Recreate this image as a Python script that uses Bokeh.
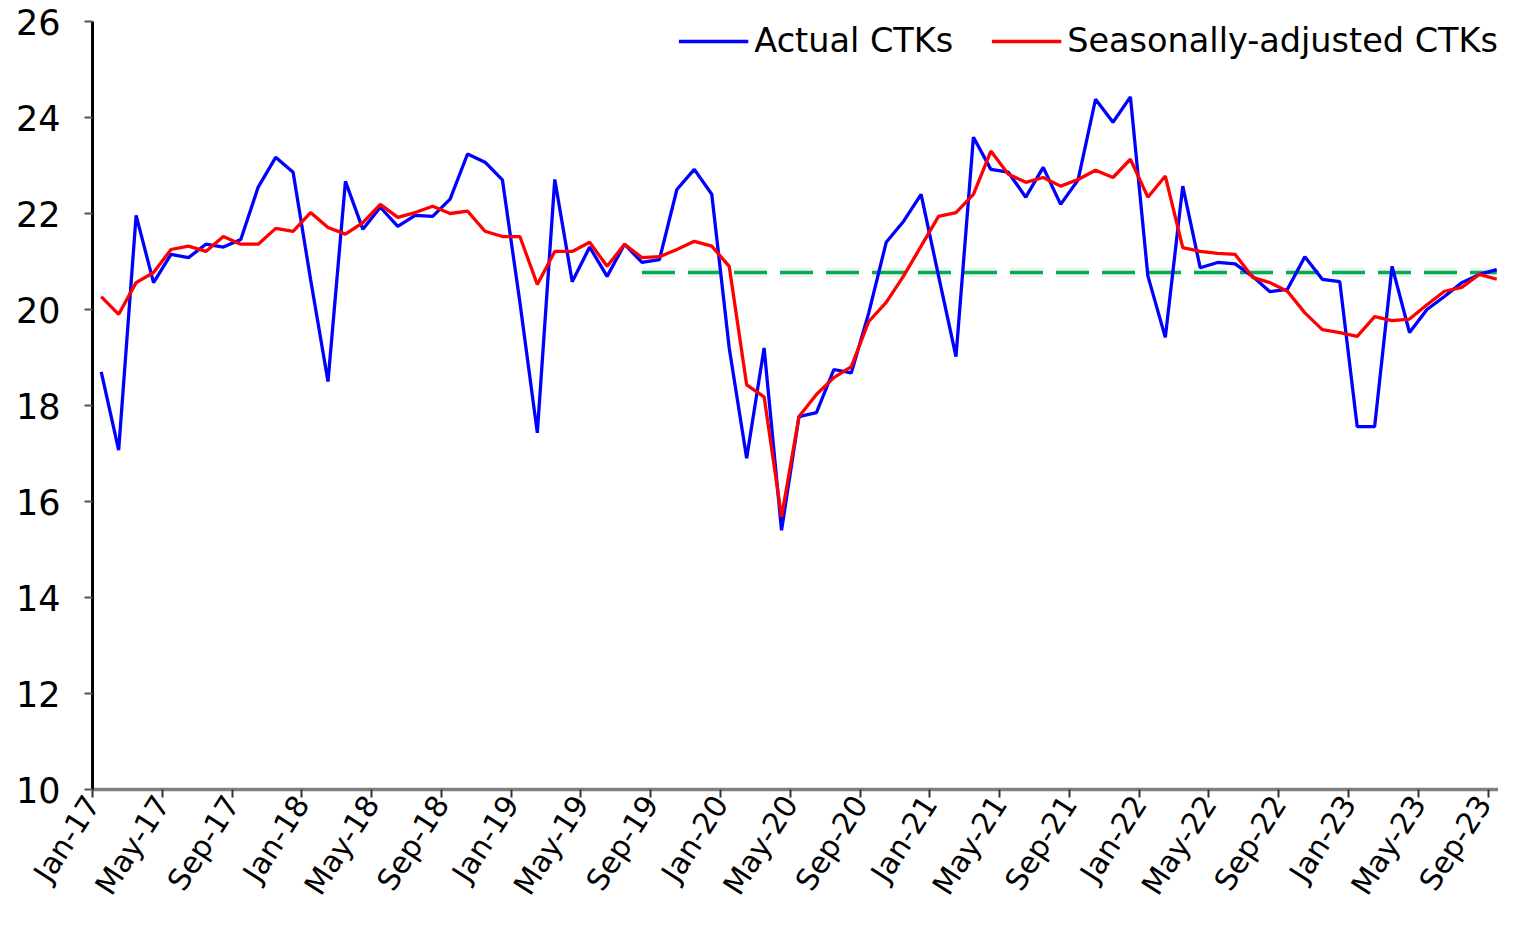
import numpy as np
import pandas as pd
from bokeh.plotting import figure
from bokeh.models import FixedTicker, Range1d, Legend, LegendItem
from bokeh.embed import file_html
from bokeh.resources import INLINE

# ---- data ----
months = [d.strftime("%b-%y") for d in pd.date_range("2017-01-01", "2023-09-01", freq="MS")]

actual_ctks = [
    18.70, 17.07, 21.96, 20.56, 21.15, 21.08, 21.36, 21.30, 21.46, 22.55, 23.17, 22.86,  # 2017
    20.63, 18.50, 22.67, 21.67, 22.13, 21.73, 21.96, 21.94, 22.30, 23.24, 23.07, 22.70,  # 2018
    20.15, 17.43, 22.71, 20.58, 21.30, 20.69, 21.36, 20.98, 21.04, 22.50, 22.92, 22.40,  # 2019
    19.20, 16.90, 19.20, 15.40, 17.77, 17.85, 18.75, 18.68, 19.93, 21.40, 21.84, 22.40,  # 2020
    20.70, 19.02, 23.59, 22.92, 22.86, 22.34, 22.96, 22.19, 22.70, 24.38, 23.90, 24.43,  # 2021
    20.70, 19.42, 22.57, 20.87, 20.98, 20.95, 20.69, 20.37, 20.42, 21.10, 20.63, 20.58,  # 2022
    17.56, 17.56, 20.90, 19.52, 20.00, 20.27, 20.56, 20.73, 20.83,                      # 2023
]

sa_ctks = [
    20.27, 19.90, 20.56, 20.77, 21.25, 21.32, 21.21, 21.52, 21.36, 21.36, 21.69, 21.63,  # 2017
    22.02, 21.71, 21.57, 21.81, 22.19, 21.92, 22.02, 22.15, 22.00, 22.05, 21.63, 21.52,  # 2018
    21.52, 20.52, 21.21, 21.21, 21.40, 20.90, 21.36, 21.08, 21.10, 21.25, 21.42, 21.32,  # 2019
    20.90, 18.43, 18.18, 15.68, 17.77, 18.23, 18.58, 18.81, 19.75, 20.15, 20.70, 21.32,  # 2020
    21.94, 22.02, 22.40, 23.30, 22.82, 22.65, 22.75, 22.57, 22.71, 22.90, 22.75, 23.13,  # 2021
    22.34, 22.78, 21.29, 21.21, 21.17, 21.15, 20.67, 20.56, 20.38, 19.93, 19.58, 19.52,  # 2022
    19.44, 19.85, 19.77, 19.80, 20.10, 20.38, 20.46, 20.73, 20.63,                      # 2023
]

ref_level = 20.77          # pre-pandemic reference level
ref_start = "Aug-19"

tick_labels = ["Jan-17", "May-17", "Sep-17", "Jan-18", "May-18", "Sep-18", "Jan-19",
               "May-19", "Sep-19", "Jan-20", "May-20", "Sep-20", "Jan-21", "May-21",
               "Sep-21", "Jan-22", "May-22", "Sep-22", "Jan-23", "May-23", "Sep-23"]

y_ticks = [10, 12, 14, 16, 18, 20, 22, 24, 26]

# ---- positions derived from the categories ----
x = np.arange(len(months)) + 0.5
tick_pos = [months.index(t) for t in tick_labels]
i0 = months.index(ref_start)
ref_x = x[i0:]
ref_y = [ref_level] * len(ref_x)

FONT = "DejaVu Sans"

p = figure(width=1498, height=913, output_backend="svg", toolbar_location=None,
           x_range=Range1d(0, 80.6), y_range=Range1d(10, 26),
           min_border_left=92, min_border_right=0, min_border_top=21, min_border_bottom=124)

p.outline_line_color = None
p.xgrid.visible = False
p.ygrid.visible = False
p.background_fill_color = "white"
p.border_fill_color = "white"

# reference line with soft shadow
p.line(ref_x, ref_y, line_color="#888888", line_width=10, line_alpha=0.10, line_dash="33 13")
l_ref = p.line(ref_x, ref_y, line_color="#00B050", line_width=3.5, line_dash="33 13")

l_act = p.line(x, actual_ctks, line_color="#0000FF", line_width=3.3)
l_sa = p.line(x, sa_ctks, line_color="#FF0000", line_width=3.3)

# axes
p.yaxis.ticker = FixedTicker(ticks=y_ticks)
p.xaxis.ticker = FixedTicker(ticks=tick_pos)
p.xaxis.major_label_overrides = {pos: lab for pos, lab in zip(tick_pos, tick_labels)}

for ax in (p.xaxis[0], p.yaxis[0]):
    ax.minor_tick_line_color = None
    ax.major_tick_in = 0
    ax.major_tick_out = 8
    ax.major_tick_line_width = 2
    ax.major_label_text_font = FONT
    ax.major_label_text_color = "black"

p.yaxis.axis_line_color = "black"
p.yaxis.axis_line_width = 3
p.yaxis.major_tick_line_color = "#555555"
p.yaxis.major_label_text_font_size = "35px"
p.yaxis.major_label_standoff = 24

p.xaxis.axis_line_color = "#808080"
p.xaxis.axis_line_width = 3.5
p.xaxis.major_tick_line_color = "#333333"
p.xaxis.major_label_text_font_size = "30px"
p.xaxis.major_label_orientation = 1.0
p.xaxis.major_label_standoff = 1

legend = Legend(items=[LegendItem(label="Actual CTKs", renderers=[l_act]),
                       LegendItem(label="Seasonally-adjusted CTKs", renderers=[l_sa])],
                location="top_right", orientation="horizontal")
legend.border_line_alpha = 0
legend.background_fill_alpha = 0
legend.label_text_font = FONT
legend.label_text_font_size = "33.5px"
legend.label_text_color = "black"
legend.glyph_width = 70
legend.glyph_height = 30
legend.label_standoff = 6
legend.spacing = 38
legend.padding = 0
legend.margin = 0
p.add_layout(legend)

open("out.html", "w").write(file_html(p, INLINE))
